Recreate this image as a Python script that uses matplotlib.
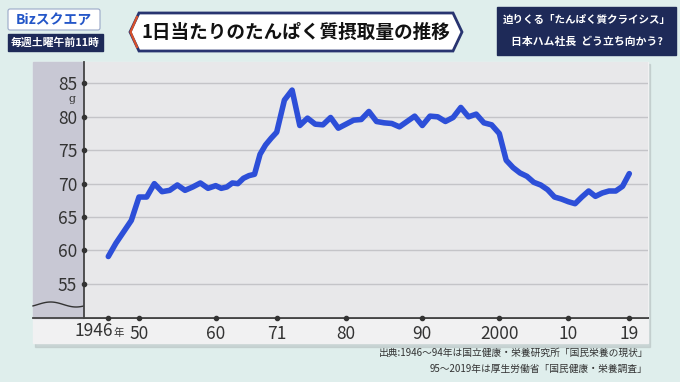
import numpy as np
import matplotlib.pyplot as plt
from matplotlib.patches import Rectangle, Polygon, FancyBboxPatch

plt.rcParams['font.family'] = ['Noto Sans CJK JP', 'DejaVu Sans']

# data (g per day)
years = list(range(1946, 2020))
protein = [59.1, 61.1, 62.8, 64.5, 68.0,                              # 1946-50
           68.0, 70.0, 68.8, 69.0, 69.8, 69.0, 69.5, 70.1, 69.3, 69.7,  # 51-60
           69.3, 69.5, 70.1, 70.0, 70.8, 71.2, 71.4, 74.4, 75.8, 76.8,  # 61-70
           77.7, 82.5, 84.0, 78.7, 79.8, 78.9, 78.8, 79.9, 78.3, 78.9,  # 71-80
           79.5, 79.6, 80.8, 79.3, 79.1, 79.0, 78.5, 79.3, 80.1, 78.7,  # 81-90
           80.1, 80.0, 79.3, 79.9, 81.4, 80.0, 80.4, 79.1, 78.8, 77.5,  # 91-2000
           73.5, 72.4, 71.6, 71.1, 70.2, 69.8, 69.1, 68.0, 67.7, 67.3,  # 01-10
           67.0, 68.0, 68.9, 68.1, 68.6, 68.9, 68.9, 69.6, 71.5]        # 11-19
tick_years = [1946, 1950, 1960, 1971, 1980, 1990, 2000, 2010, 2019]
tick_labels = ['', '50', '60', '71', '80', '90', '2000', '10', '19']
y_ticks = [55, 60, 65, 70, 75, 80, 85]

title = '1日当たりのたんぱく質摂取量の推移'
logo = 'Bizスクエア'
airtime = '毎週土曜午前11時'
topic = ['迫りくる「たんぱく質クライシス」', '日本ハム社長  どう立ち向かう?']
source = ['出典:1946～94年は国立健康・栄養研究所「国民栄養の現状」',
          '95～2019年は厚生労働省「国民健康・栄養調査」']

W, H = 680, 382
NAVY = '#1e2a58'
BLUE = '#2d4fd8'
TXT = '#333'

fig = plt.figure(figsize=(W / 100, H / 100), dpi=100)
fig.patch.set_facecolor('#dfeeec')

# background layer in pixel coords
bg = fig.add_axes([0, 0, 1, 1], zorder=0)
bg.set_xlim(0, W)
bg.set_ylim(H, 0)
bg.axis('off')

# chart panel
bg.add_patch(Rectangle((35, 64), 615, 283, color='#b9c4c4', alpha=0.6))  # shadow
bg.add_patch(Rectangle((33, 62), 615, 281, color='#f1f1f2'))
bg.add_patch(Rectangle((33, 62), 51, 256, color='#c8c8d4'))
wx = np.linspace(33, 84, 60)
bg.plot(wx, 304.5 - 2.5 * np.sin((wx - 33) / 51 * 2 * np.pi - 0.6), color=TXT, lw=1)
bg.plot([33, 648], [318, 318], color='#444', lw=1.3)

# header: logo
bg.add_patch(FancyBboxPatch((8, 9), 92, 21, boxstyle='round,pad=0,rounding_size=2',
                            fc='white', ec='#9aa8c8', lw=0.8))
bg.text(54, 19.5, logo, ha='center', va='center', fontsize=10, color='#2356c8',
        fontweight='bold')
bg.add_patch(Rectangle((8, 34), 95, 17, color=NAVY))
bg.text(55.5, 42.5, airtime, ha='center', va='center', fontsize=7.8, color='white',
        fontweight='bold')

# header: title banner
bg.add_patch(Polygon([(130, 32), (139, 13), (453, 13), (462, 32), (453, 51), (139, 51)],
                     closed=True, fc='white', ec='#283470', lw=2))
bg.plot([137, 130.5, 137], [17, 32, 47], color='#d8502a', lw=1.6)
bg.text(296, 32.5, title, ha='center', va='center', fontsize=13.4, color='#111',
        fontweight='bold')

# header: topic box
bg.add_patch(Rectangle((497, 7), 179, 48, color=NAVY))
bg.text(586.5, 19.5, topic[0], ha='center', va='center', fontsize=7.6, color='white',
        fontweight='bold')
bg.text(586.5, 42, topic[1], ha='center', va='center', fontsize=7.8, color='white',
        fontweight='bold')

# source note
bg.text(648, 353, source[0], ha='right', va='center', fontsize=7, color=TXT)
bg.text(648, 369, source[1], ha='right', va='center', fontsize=7, color=TXT)

# plot area
ax = fig.add_axes([84 / W, 1 - 318 / H, (648 - 84) / W, (318 - 62) / H], zorder=1)
ax.set_facecolor('#e8e8ea')

# uneven year spacing as drawn in the original
knot_years = [1942.83, 1946, 1950, 1960, 1971, 1980, 1990, 2000, 2010, 2019, 2021.76]
knot_px = [84, 108.3, 139, 215.7, 276.7, 346, 422.3, 499.3, 568.3, 629.3, 648]
ax.set_xscale('function', functions=(lambda v: np.interp(v, knot_years, knot_px),
                                     lambda p: np.interp(p, knot_px, knot_years)))
ax.set_xlim(knot_years[0], knot_years[-1])
ax.set_ylim(49.9, 88.2)

ax.plot(years, protein, color=BLUE, lw=4, solid_joinstyle='round',
        solid_capstyle='round', zorder=3)

ax.set_yticks(y_ticks)
ax.set_xticks(tick_years, tick_labels)
ax.yaxis.grid(True, color='#c4c4c8', lw=1)
ax.set_axisbelow(True)
ax.tick_params(length=0, labelsize=12.5, labelcolor=TXT, pad=5)
for s in ['top', 'right']:
    ax.spines[s].set_visible(False)
ax.spines['left'].set_color('#444')
ax.spines['left'].set_linewidth(1.3)
ax.spines['bottom'].set_color('#444')
ax.spines['bottom'].set_linewidth(1.3)

# dots on the axes at each tick
ax.scatter([knot_years[0]] * len(y_ticks), y_ticks, s=9, color=TXT, clip_on=False, zorder=5)
ax.scatter(tick_years, [49.9] * len(tick_years), s=9, color=TXT, clip_on=False, zorder=5)

bg.text(113, 331, '1946', ha='right', va='center', fontsize=12.5, color=TXT)
bg.text(114, 332.5, '年', ha='left', va='center', fontsize=7.5, color=TXT)
bg.text(72, 99.5, 'g', ha='center', va='center', fontsize=8, color=TXT, family='DejaVu Serif')

fig.savefig('out.png', dpi=100)
